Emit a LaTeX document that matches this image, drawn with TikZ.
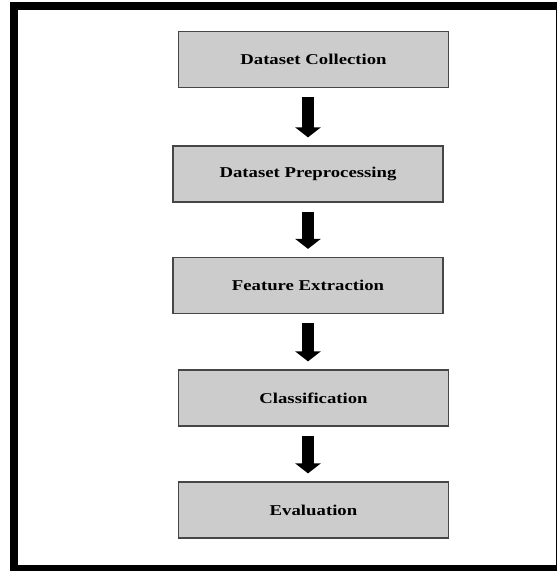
\documentclass[tikz,border=0pt]{standalone}
\usepackage{fontspec}
\newfontfamily\stagefont[FakeStretch=1.25]{Liberation Serif}
\usetikzlibrary{arrows.meta, positioning, calc}
\definecolor{BoxGray}{RGB}{204,204,204}
\definecolor{EdgeGray}{RGB}{70,70,70}

\begin{document}
\begin{tikzpicture}[x=1pt, y=-1pt,
		stage/.style={draw=EdgeGray, line width=1.2pt, fill=BoxGray, minimum width=270pt, minimum height=56pt, font=\stagefont\bfseries\fontsize{15}{18}\selectfont},
		flow/.style={-{Triangle[width=25pt,length=10pt]}, line width=12pt, shorten <=9pt, shorten >=8pt}]
	\useasboundingbox (0,0) rectangle (557,571);
	\draw[line width=8pt] (14,6) rectangle (560,569);
	\node[stage] (col) at (313.5,59.5) {Dataset Collection};
	\node[stage] (pre) at (308,174) {Dataset Preprocessing};
	\node[stage] (fea) at (308,285.5) {Feature Extraction};
	\node[stage] (cls) at (313.5,398) {Classification};
	\node[stage] (eva) at (313.5,510) {Evaluation};
	\coordinate (ax) at (308,0);
	\draw[flow] (ax |- col.south) -- (ax |- pre.north);
	\draw[flow] (ax |- pre.south) -- (ax |- fea.north);
	\draw[flow] (ax |- fea.south) -- (ax |- cls.north);
	\draw[flow] (ax |- cls.south) -- (ax |- eva.north);
\end{tikzpicture}
\end{document}
